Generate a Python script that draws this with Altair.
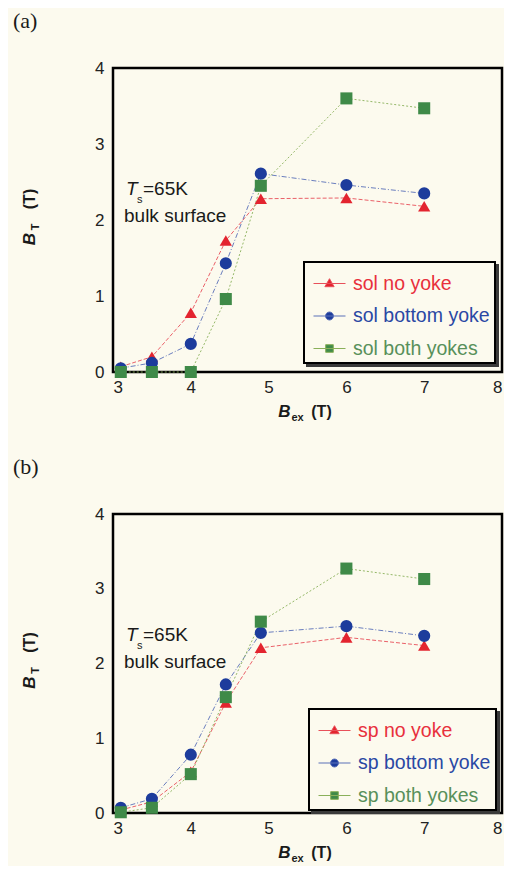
import altair as alt
import pandas as pd

# ---------------- data ----------------
BEX = [3.1, 3.5, 4.0, 4.45, 4.9, 6.0, 7.0]

A_NAMES = ["sol no yoke", "sol bottom yoke", "sol both yokes"]
A_NO = [0.07, 0.20, 0.78, 1.73, 2.28, 2.29, 2.18]
A_BOTTOM = [0.05, 0.12, 0.37, 1.43, 2.61, 2.46, 2.35]
A_BOTH = [0.00, 0.00, 0.00, 0.96, 2.45, 3.60, 3.47]

B_NAMES = ["sp no yoke", "sp bottom yoke", "sp both yokes"]
B_NO = [0.04, 0.15, 0.55, 1.48, 2.21, 2.35, 2.24]
B_BOTTOM = [0.07, 0.19, 0.78, 1.72, 2.41, 2.50, 2.37]
B_BOTH = [0.01, 0.07, 0.52, 1.55, 2.56, 3.27, 3.13]

X_TICKS = [3, 4, 5, 6, 7, 8]
Y_TICKS = [0, 1, 2, 3, 4]

# ---------------- style ----------------
BG = "#fcfaee"
COLORS = ["#e3242f", "#1d3c9c", "#3f8a48"]
LINE_COLORS = ["#e8505a", "#5a70b8", "#8ab05a"]
LABEL_COLORS = ["#e8303c", "#2a48a4", "#58905a"]
SHAPES = ["triangle-up", "circle", "square"]
SIZES = [150, 145, 115]
DASHES = [[4, 2], [5, 2, 1, 2], [2, 2]]
LEGEND_PATHS = [
    "M-1,0H1M0,-0.3L0.29,0.2H-0.29Z",
    "M-1,0H1M0.25,0A0.25,0.25 0 1 1 -0.25,0A0.25,0.25 0 1 1 0.25,0Z",
    "M-1,0H1M-0.24,-0.24H0.24V0.24H-0.24Z",
]
SANS = "Liberation Sans"
SERIF = "Liberation Serif"
LEG_FONT = 19.5


def color_expr(names, cols):
    return ("datum.value == '%s' ? '%s' : datum.value == '%s' ? '%s' : '%s'"
            % (names[0], cols[0], names[1], cols[1], cols[2]))


def txt(text, x, y, size, font=SANS, style="normal", weight="normal",
        angle=0, align="center", baseline="middle"):
    return alt.Chart(pd.DataFrame({"t": [text]})).mark_text(
        font=font, fontSize=size, fontStyle=style, fontWeight=weight,
        angle=angle, align=align, baseline=baseline, color="#1a1a1a"
    ).encode(x=alt.value(x), y=alt.value(y), text="t:N")


def panel(tag, names, series, width, height, leg_x, leg_y, label_em):
    rows = []
    for name, vals in zip(names, series):
        for bx, bt in zip(BEX, vals):
            rows.append({"series": name, "Bex": bx, "BT": bt})
    df = pd.DataFrame(rows)

    x = alt.X("Bex:Q", scale=alt.Scale(domain=[3, 8], nice=False, zero=False),
              axis=alt.Axis(values=X_TICKS, title=None, format="d"))
    y = alt.Y("BT:Q", scale=alt.Scale(domain=[0, 4], nice=False),
              axis=alt.Axis(values=Y_TICKS, title=None, format="d"))

    lines = alt.Chart(df).mark_line(strokeWidth=1, opacity=0.9).encode(
        x=x, y=y,
        color=alt.Color("series:N", scale=alt.Scale(domain=names, range=LINE_COLORS), legend=None),
        strokeDash=alt.StrokeDash("series:N", scale=alt.Scale(domain=names, range=DASHES), legend=None),
    )
    points = alt.Chart(df).mark_point(filled=True, opacity=1).encode(
        x=x, y=y,
        color=alt.Color("series:N", scale=alt.Scale(domain=names, range=COLORS), legend=None),
        shape=alt.Shape("series:N", scale=alt.Scale(domain=names, range=SHAPES), legend=None),
        size=alt.Size("series:N", scale=alt.Scale(domain=names, range=SIZES), legend=None),
    )
    leg_common = dict(
        orient="none", title=None,
        padding=5, labelOffset=7, rowPadding=6.5,
        symbolSize=1024, symbolStrokeWidth=1,
        labelFont=SANS, labelFontSize=LEG_FONT, labelLimit=300,
    )
    main_leg = dict(
        leg_common, legendX=leg_x, legendY=leg_y, symbolOffset=4,
        symbolStrokeColor={"expr": color_expr(names, LINE_COLORS)},
        labelColor={"expr": color_expr(names, LABEL_COLORS)},
        fillColor=BG, strokeColor="black",
    )
    # drop shadow: same-size box, offset by 3px, no labels (width kept by symbol offset)
    shadow_leg = dict(
        leg_common, legendX=leg_x + 3, legendY=leg_y + 3,
        symbolOffset=4 + label_em * LEG_FONT,
        labelExpr="''",
        symbolOpacity=0, labelOpacity=0,
        fillColor="#3a3a3a", strokeColor="#3a3a3a",
    )

    def legend_layer(props):
        return alt.Chart(df).transform_filter("false").mark_point(filled=True, opacity=1).encode(
            x=x, y=y,
            color=alt.Color("series:N", scale=alt.Scale(domain=names, range=COLORS),
                            legend=alt.Legend(**props)),
            shape=alt.Shape("series:N", scale=alt.Scale(domain=names, range=LEGEND_PATHS),
                            legend=alt.Legend(**props)),
        )

    texts = [
        txt(tag, -100, -47, 22, font=SERIF, align="left"),
        # y-axis title  B_T (T)
        txt("B", -83, height / 2 + 19, 17, style="italic", weight="bold", angle=270),
        txt("T", -77, height / 2 + 7, 11, weight="bold", angle=270),
        txt("(T)", -83, height / 2 - 21, 16, weight="bold", angle=270),
        # x-axis title  B_ex (T)
        txt("B", width / 2 - 23, height + 40, 17, style="italic", weight="bold"),
        txt("ex", width / 2 - 10, height + 46, 11, weight="bold"),
        txt("(T)", width / 2 + 14, height + 40, 16, weight="bold"),
        # annotation
        txt("T", 13, 121, 19, style="italic", align="left"),
        txt("s", 24, 132, 11, align="left"),
        txt("=65K", 30, 121, 19, align="left"),
        txt("bulk surface", 11, 148, 19, align="left"),
    ]

    return alt.layer(lines, points, legend_layer(shadow_leg), legend_layer(main_leg), *texts).resolve_scale(
        color="independent", shape="independent", size="independent", strokeDash="independent"
    ).properties(width=width, height=height)


# widest legend label, in em of Liberation Sans: "sol bottom yoke" / "sp bottom yoke"
top = panel("(a)", A_NAMES, [A_NO, A_BOTTOM, A_BOTH], 389, 304, 191, 194, 7.003)
bottom = panel("(b)", B_NAMES, [B_NO, B_BOTTOM, B_BOTH], 389, 299, 196, 195, 6.781)

chart = alt.vconcat(
    top, bottom, spacing=29, background=BG,
    padding={"left": 3, "top": 0, "right": 0, "bottom": 0},
).resolve_scale(
    color="independent", shape="independent", size="independent", strokeDash="independent"
).configure_view(
    stroke="black", strokeWidth=2.5, fill=BG
).configure_axis(
    domain=False, ticks=False, tickSize=0, grid=False,
    labelFont=SANS, labelFontSize=17, labelColor="#222222", labelPadding=7,
).configure_axisY(labelPadding=9).configure_legend(strokeWidth=2)

chart.save("out.html", embed_options={"renderer": "svg", "actions": False})
